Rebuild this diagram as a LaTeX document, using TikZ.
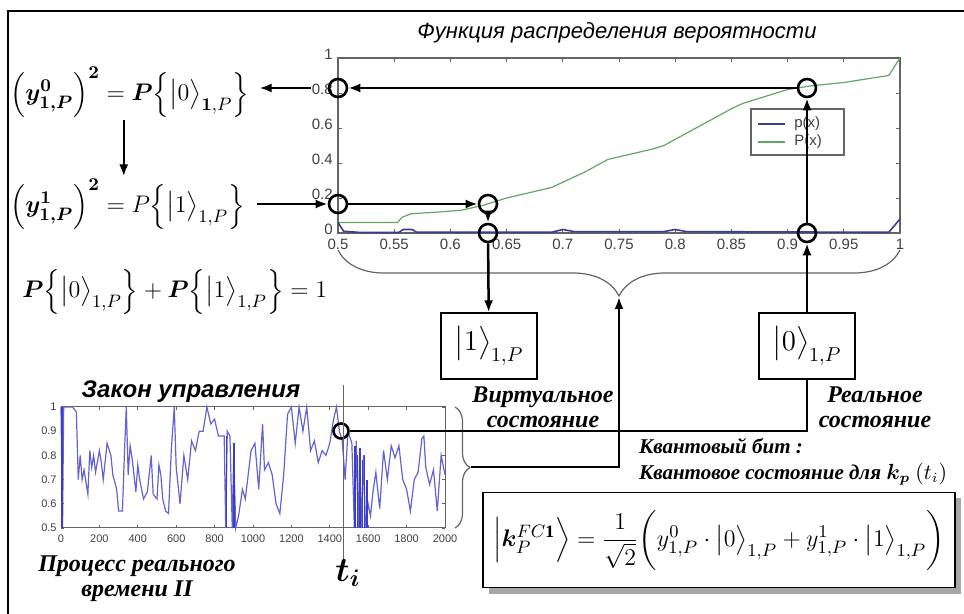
\documentclass[tikz,border=0pt]{standalone}
\usepackage{amsmath, amssymb, bm}
\usepackage{fontspec}
\setmainfont{Liberation Serif}
\setsansfont{Liberation Sans}
\usepackage{tikz}
\usetikzlibrary{arrows.meta,decorations.pathreplacing,shadows,backgrounds,positioning}

\definecolor{cdfgreen}{RGB}{100,165,100}
\definecolor{pdfblue}{RGB}{60,60,150}
\definecolor{sigblue}{RGB}{60,60,200}
\definecolor{axisgray}{RGB}{100,100,100}

\begin{document}
\begin{tikzpicture}[x=0.5pt, y=-0.5pt,
  ring/.style={circle, draw, line width=1.3pt, minimum size=9pt, inner sep=0pt},
  arr/.style={line width=1.25pt, -{Latex[length=6pt,width=4.5pt]}},
  link/.style={line width=1.25pt},
  statebox/.style={draw, line width=0.6pt, minimum width=48pt, minimum height=33pt, inner sep=0pt, font=\fontsize{14}{17}\selectfont},
  ticklab/.style={font=\fontsize{7.5}{8}\sffamily, text=black!75, inner sep=1pt},
  minilab/.style={font=\fontsize{5.5}{6}\sffamily, text=black!75, inner sep=1pt},
  note/.style={font=\fontsize{12}{12.5}\selectfont\bfseries\itshape, align=center},
  formula/.style={anchor=west, font=\fontsize{12.5}{15}\selectfont, inner sep=1pt}]
  \useasboundingbox (0,0) rectangle (964,614);

  % рамка
  \draw[line width=1.3pt] (964,11) -- (8,11) -- (8,614);

  % формулы слева
  \node[formula] (f0) at (8,92) {$\Bigl(\bm{y}^{\bm{0}}_{\bm{1,P}}\Bigr)^{\bm{2}} = \bm{P}\Bigl\{\bigl|0\bigr\rangle_{\bm{1},P}\Bigr\}$};
  \node[formula] (f1) at (8,204) {$\Bigl(\bm{y}^{\bm{1}}_{\bm{1,P}}\Bigr)^{\bm{2}} = P\Bigl\{\bigl|1\bigr\rangle_{1,P}\Bigr\}$};
  \node[formula] (fs) at (20,292) {$\bm{P}\Bigl\{\bigl|0\bigr\rangle_{1,P}\Bigr\} + \bm{P}\Bigl\{\bigl|1\bigr\rangle_{1,P}\Bigr\} = 1$};

  % функция распределения
  \node[font=\fontsize{11}{13}\sffamily\itshape] (ttl) at (617,33) {Функция распределения вероятности};
  \draw[axisgray, line width=0.6pt] (338,58) rectangle (900,233);
  \foreach \i in {0,...,10} {
    \draw[axisgray] ({338+\i*56.2},233) -- ++(0,-4);
    \draw[axisgray] ({338+\i*56.2},58) -- ++(0,4);
  }
  \foreach \i in {0,...,5} {
    \draw[axisgray] (338,{233-\i*35}) -- ++(4,0);
    \draw[axisgray] (900,{233-\i*35}) -- ++(-4,0);
  }
  \foreach \v [count=\i from 0] in {0.5,0.55,0.6,0.65,0.7,0.75,0.8,0.85,0.9,0.95,1}
    \node[ticklab] at ({338+\i*56.2},244) {\v};
  \foreach \v [count=\i from 0] in {0,0.2,0.4,0.6,0.8,1}
    \node[ticklab, anchor=east, fill=white, inner sep=0.5pt] at (334,{229-\i*35}) {\v};

  \begin{scope}[shift={(-224,233)}, x=562pt, y=87.5pt]
    \draw[cdfgreen, line width=0.6pt] plot coordinates {(0.5,0.06) (0.553,0.06) (0.557,0.09)
      (0.565,0.11) (0.59,0.12) (0.61,0.13) (0.63,0.16) (0.65,0.2) (0.67,0.23) (0.69,0.26)
      (0.7,0.29) (0.72,0.35) (0.74,0.42) (0.76,0.45) (0.78,0.48) (0.79,0.5) (0.81,0.57)
      (0.83,0.64) (0.85,0.71) (0.86,0.74) (0.88,0.78) (0.9,0.82) (0.92,0.84) (0.95,0.86)
      (0.97,0.88) (0.99,0.9) (1,1)};
    \draw[pdfblue, line width=0.8pt] plot coordinates {(0.5,0.06) (0.505,0.01) (0.52,0.003)
      (0.554,0.003) (0.558,0.02) (0.566,0.02) (0.57,0.004) (0.69,0.004) (0.7,0.02)
      (0.71,0.008) (0.79,0.008) (0.8,0.02) (0.81,0.008) (0.99,0.004) (1,0.08)};
  \end{scope}

  % легенда
  \draw[axisgray, line width=0.6pt, fill=white] (751,109) rectangle (844,155);
  \draw[pdfblue, line width=0.8pt] (758,124) -- (785,124);
  \node[ticklab, anchor=west] (lp) at (792,124) {p(x)};
  \draw[cdfgreen, line width=0.8pt] (758,142) -- (785,142);
  \node[ticklab, anchor=west] (lP) at (792,142) {P(x)};

  % точки на графике
  \node[ring] (c08l) at (338,88) {};
  \node[ring] (c08r) at (807,88) {};
  \node[ring] (c02l) at (338,204) {};
  \node[ring] (c02r) at (488,204) {};
  \node[ring] (c00l) at (488,233) {};
  \node[ring] (c00r) at (807,233) {};

  % состояния
  \node[statebox] (b1) at (489,346) {$\bigl|1\bigr\rangle_{1,P}$};
  \node[statebox] (b0) at (807,346) {$\bigl|0\bigr\rangle_{1,P}$};
  \node[note] (virt) at (543,407) {Виртуальное\\состояние};
  \node[note] (real) at (875,407) {Реальное\\состояние};
  \node[note, align=left, anchor=west, font=\fontsize{10.5}{13}\selectfont\bfseries\itshape] (qbit) at (632,462)
    {Квантовый бит :\\Квантовое состояние для $\bm{k_p}$ $(t_i)$};

  % закон управления
  \node[font=\fontsize{12}{14}\sffamily\bfseries\itshape] (law) at (191,392) {Закон управления};
  \draw[axisgray, line width=0.5pt] (61,407) rectangle (445,528);
  \foreach \i in {0,...,10} {
    \draw[axisgray] ({61+\i*38.4},528) -- ++(0,-3);
    \draw[axisgray] ({61+\i*38.4},407) -- ++(0,3);
    \node[minilab] at ({61+\i*38.4},539) {\pgfmathparse{int(\i*200)}\pgfmathresult};
  }
  \foreach \v [count=\i from 0] in {0.5,0.6,0.7,0.8,0.9,1} {
    \draw[axisgray] (61,{528-\i*24.2}) -- ++(3,0);
    \draw[axisgray] (445,{528-\i*24.2}) -- ++(-3,0);
    \node[minilab, anchor=east] at (59,{528-\i*24.2}) {\v};
  }
  \begin{scope}[shift={(61,649)}, x=0.096pt, y=121pt]
    \draw[sigblue!80!white, line width=0.6pt] plot coordinates {(0,1) (8,0.5) (14,1) (60,1)
      (80,0.98) (90,0.7) (100,0.8) (110,0.7) (120,0.74) (140,0.64) (150,0.82) (160,0.75)
      (170,0.8) (180,0.73) (200,0.82) (210,0.77) (220,0.7) (240,0.85) (260,0.8) (270,0.72)
      (290,0.66) (300,0.57) (320,0.57) (330,0.8) (340,1) (350,0.72) (360,0.84) (370,0.79)
      (390,0.65) (400,0.76) (410,0.7) (430,0.62) (450,0.65) (470,0.8) (480,0.64) (500,0.62)
      (510,0.76) (520,0.72) (530,0.62) (545,0.57) (560,0.56) (575,0.83) (590,1) (600,0.75)
      (620,0.6) (640,0.8) (660,0.7) (680,0.86) (700,0.82) (720,0.9) (740,0.9) (760,1)
      (780,0.93) (800,0.95) (820,0.88) (850,0.88) (858,0.5) (866,0.9) (880,0.88) (892,0.5)
      (900,0.82) (910,0.5) (925,0.55) (945,0.66) (960,0.62) (975,0.72) (990,0.82) (1010,0.85)
      (1030,0.66) (1050,0.93) (1060,0.74) (1080,0.77) (1100,0.72) (1120,0.6) (1140,0.56)
      (1160,0.72) (1180,0.97) (1200,1) (1220,0.85) (1240,1) (1260,0.9) (1280,1) (1300,0.82)
      (1320,0.86) (1340,0.77) (1360,0.82) (1380,0.8) (1400,0.85) (1420,0.95) (1435,1)
      (1450,0.9) (1465,0.86) (1480,0.7) (1495,0.9) (1515,0.85) (1528,0.5) (1538,0.86)
      (1548,0.5) (1556,0.82) (1566,0.5) (1576,0.8) (1586,0.5) (1600,0.6) (1612,0.55)
      (1625,0.65) (1640,0.73) (1660,0.58) (1680,0.82) (1700,0.7) (1720,0.84) (1740,0.79)
      (1760,0.84) (1780,0.7) (1800,0.66) (1820,0.57) (1840,0.7) (1860,0.73) (1880,0.87)
      (1890,0.88) (1900,0.75) (1920,0.68) (1940,0.74) (1960,0.57) (1980,0.8) (2000,0.72)};
    % плотные участки сигнала
    \draw[sigblue, line width=1pt] (6,0.5) -- (6,1);
    \draw[sigblue, line width=0.8pt] (862,0.5) -- (862,0.88) (900,0.5) -- (900,0.85);
    \foreach \t/\h in {1532/0.84,1545/0.8,1558/0.83,1570/0.78,1582/0.8,1594/0.7}
      \draw[sigblue, line width=0.7pt] (\t,0.5) -- (\t,\h);
  \end{scope}
  \node[ring, minimum size=7.5pt] (cz) at (341,431) {};
  \draw[axisgray, line width=0.5pt] (343,385) -- (343,560);
  \node[font=\fontsize{17}{18}\selectfont] (ti) at (348,573) {$\bm{t_i}$};
  \node[note] (proc) at (137,579) {Процесс реального\\времени II};

  % скобки
  \draw[axisgray, line width=0.6pt, decorate, decoration={brace, mirror, amplitude=23pt}] (338,250) -- (900,250);
  \coordinate (bu) at (619,297);
  \draw[axisgray, line width=0.6pt, decorate, decoration={brace, amplitude=7.5pt}] (455,407) -- (455,528);
  \coordinate (bl) at (471,467);

  % итоговая формула
  \node[draw, line width=0.6pt, fill=white, minimum width=236pt, minimum height=47.5pt,
    drop shadow={shadow xshift=3pt, shadow yshift=-3pt, fill=black!35, opacity=1},
    font=\fontsize{12.5}{15}\selectfont] (kf) at (719,540)
    {$\Bigl|\bm{k}_{P}^{FC\mathbf{1}}\Bigr\rangle = \dfrac{1}{\sqrt{2}}\biggl(y^{0}_{1,P}\cdot\bigl|0\bigr\rangle_{1,P} + y^{1}_{1,P}\cdot\bigl|1\bigr\rangle_{1,P}\biggr)$};

  % связи
  \begin{scope}[on background layer]
    \draw[arr] (c08l) -- ([xshift=4pt]c08l -| f0.east);
  \end{scope}
  \draw[arr] (b0) -- (c00r);
  \draw[arr] (c00r) -- (c08r);
  \draw[arr] (c08r) -- (c08l);
  \draw[arr] ([xshift=-3pt]f0.south) -- ([xshift=-3pt]f0.south |- f1.north);
  \draw[arr] ([xshift=5pt]f1.east |- c02l) -- (c02l);
  \draw[arr] (c02l) -- (c02r);
  \draw[arr] (c02r) -- (c00l);
  \draw[arr] (c00l) -- (b1);
  \draw[link] (b0.south) |- (cz);
  \draw[arr] (bl) -| (bu);
\end{tikzpicture}
\end{document}
